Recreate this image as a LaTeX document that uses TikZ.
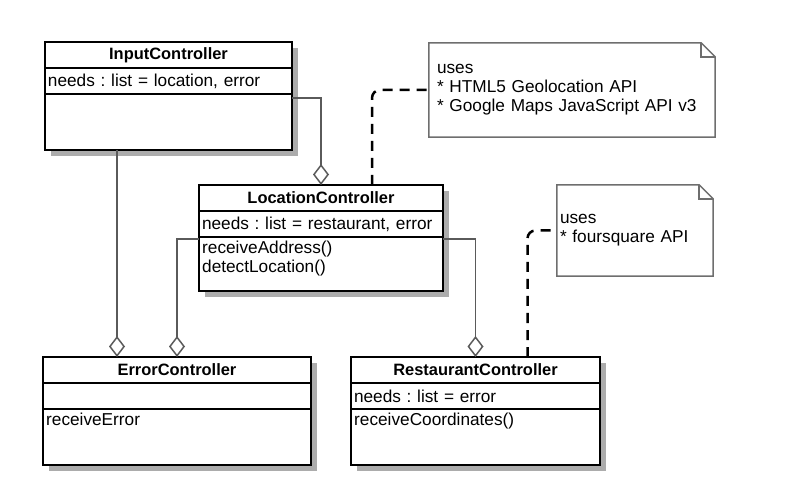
\documentclass[tikz,border=0pt]{standalone}
\usepackage{fontspec}
\setmainfont{Liberation Sans}
\usetikzlibrary{positioning,backgrounds,arrows.meta}

\definecolor{shadowgray}{RGB}{172,172,172}
\definecolor{wiregray}{RGB}{90,90,90}
\definecolor{notegray}{RGB}{110,110,110}

\tikzset{
	part/.style={draw, line width=2bp, outer sep=0pt, inner sep=0pt, fill=white},
	ctitle/.style={part, minimum height=26bp, font=\fontsize{16.5}{19}\selectfont\bfseries},
	cattr/.style={part, minimum height=26bp, align=left, inner xsep=3bp},
	cops/.style={part, minimum height=56bp},
	optext/.style={anchor=north west, align=left, inner xsep=3bp, inner ysep=4bp},
	shadowbox/.style={fill=shadowgray},
	agg/.style={draw=wiregray, line width=1.5bp, -{Diamond[open, length=21bp, width=16bp]}},
	link/.style={draw, line width=2.5bp, dash pattern=on 10bp off 7bp, rounded corners=8bp},
	note/.style={align=left, inner ysep=0pt},
	notefrm/.style={draw=notegray, line width=1.5bp}
}

\begin{document}
\frenchspacing
\begin{tikzpicture}[x=1bp, y=-1bp, font=\fontsize{17.3}{19}\selectfont]
			\useasboundingbox (0,0) rectangle (800,500);
			
			\node (ic) [ctitle, minimum width=247bp, anchor=north] at (168.5,42) {InputController};
			\node (icA) [cattr, text width=241bp, below=0 of ic] {needs : list = location, error};
			\node (icO) [cops, minimum width=247bp, below=0 of icA] {};
			
			\node (lc) [ctitle, minimum width=244bp, anchor=north] at (321,185) {LocationController};
			\node (lcA) [cattr, text width=238bp, below=0 of lc] {needs : list = restaurant, error};
			\node (lcO) [cops, minimum width=244bp, minimum height=54bp, below=0 of lcA] {};
			\node (lcM) [optext] at (lcO.north west) {receiveAddress()\\detectLocation()};
			
			\node (ec) [ctitle, minimum width=268bp, anchor=north] at (177,357) {ErrorController};
			\node (ecA) [cattr, text width=262bp, below=0 of ec] {};
			\node (ecO) [cops, minimum width=268bp, below=0 of ecA] {};
			\node (ecM) [optext] at (ecO.north west) {receiveError};
			
			\node (rc) [ctitle, minimum width=249bp, anchor=north] at (475.5,357) {RestaurantController};
			\node (rcA) [cattr, text width=243bp, below=0 of rc] {needs : list = error};
			\node (rcO) [cops, minimum width=249bp, below=0 of rcA] {};
			\node (rcM) [optext] at (rcO.north west) {receiveCoordinates()};
			
			% drop shadows
			\begin{scope}[on background layer]
			\path[shadowbox] ([shift={(6bp,-6bp)}]ic.north west) rectangle ([shift={(6bp,-6bp)}]icO.south east);
			\path[shadowbox] ([shift={(6bp,-6bp)}]lc.north west) rectangle ([shift={(6bp,-6bp)}]lcO.south east);
			\path[shadowbox] ([shift={(6bp,-6bp)}]ec.north west) rectangle ([shift={(6bp,-6bp)}]ecO.south east);
			\path[shadowbox] ([shift={(6bp,-6bp)}]rc.north west) rectangle ([shift={(6bp,-6bp)}]rcO.south east);
			\end{scope}
			
			\node (n1) [note, inner xsep=8bp, text width=270bp, minimum height=94bp] at (572,90)
				{uses\\{*} HTML5 Geolocation API\\{*} Google Maps JavaScript API v3};
			\node (n2) [note, inner xsep=3bp, text width=150bp, minimum height=91bp] at (635,230.5)
				{uses\\{*} foursquare API};
			\draw[notefrm] (n1.north west) -- ([xshift=-14bp]n1.north east) -- ([yshift=-14bp]n1.north east)
				-- (n1.south east) -- (n1.south west) -- cycle;
			\draw[notefrm] ([xshift=-14bp]n1.north east) |- ([yshift=-14bp]n1.north east);
			\draw[notefrm] (n2.north west) -- ([xshift=-14bp]n2.north east) -- ([yshift=-14bp]n2.north east)
				-- (n2.south east) -- (n2.south west) -- cycle;
			\draw[notefrm] ([xshift=-14bp]n2.north east) |- ([yshift=-14bp]n2.north east);
			
			\coordinate (ecX) at ([xshift=-60bp]ec.north);
			\path[agg] ([yshift=-4bp]icO.north east) -| (lc.north);
			\path[agg] (icO.south -| ecX) -- (ecX);
			\path[agg] ([yshift=-2bp]lcO.north west) -| (ec.north);
			\path[agg] ([yshift=-2bp]lcO.north east) -| (rc.north);
			
			\path[link] ([xshift=51bp]lc.north) |- (n1.west);
			\path[link] ([xshift=52bp]rc.north) |- (n2.west);
			\end{tikzpicture}
\end{document}
